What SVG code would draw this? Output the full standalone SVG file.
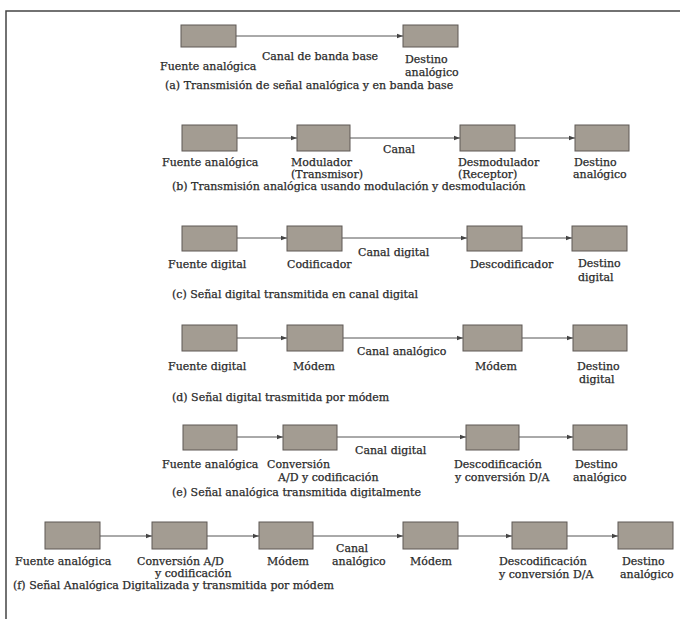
<svg xmlns="http://www.w3.org/2000/svg" width="680" height="619" viewBox="0 0 680 619">
<style>
text{font-family:"DejaVu Serif","Liberation Serif",serif;font-size:11px;fill:#2a2a2a;stroke:#2a2a2a;stroke-width:0.25}
.box{fill:#a39c92;stroke:#5e5954;stroke-width:1}
.c{stroke:#555;stroke-width:1;fill:none;marker-end:url(#ah)}
.frame{stroke:#444;stroke-width:1.5;fill:none}
</style>
<defs>
<marker id="ah" viewBox="0 0 6 6" refX="6" refY="3" markerWidth="6" markerHeight="6" markerUnits="userSpaceOnUse" orient="auto">
<path d="M0,0.8 L6,3 L0,5.2 Z" fill="#444"/>
</marker>
</defs>
<rect width="680" height="619" fill="#fff"/>
<path class="frame" d="M6,619 V11 H680"/>

<g id="connectors">
<line class="c" x1="236" y1="36" x2="403" y2="36"/>
<line class="c" x1="237" y1="138" x2="297" y2="138"/>
<line class="c" x1="350" y1="138" x2="460" y2="138"/>
<line class="c" x1="515" y1="138" x2="575" y2="138"/>
<line class="c" x1="237" y1="238" x2="287" y2="238"/>
<line class="c" x1="342" y1="238" x2="467" y2="238"/>
<line class="c" x1="522" y1="238" x2="572" y2="238"/>
<line class="c" x1="237" y1="338" x2="287" y2="338"/>
<line class="c" x1="343" y1="338" x2="463" y2="338"/>
<line class="c" x1="522" y1="338" x2="573" y2="338"/>
<line class="c" x1="237" y1="437" x2="283" y2="437"/>
<line class="c" x1="337" y1="437" x2="466" y2="437"/>
<line class="c" x1="519" y1="437" x2="573" y2="437"/>
<line class="c" x1="100" y1="536" x2="152" y2="536"/>
<line class="c" x1="207" y1="536" x2="259" y2="536"/>
<line class="c" x1="313" y1="536" x2="403" y2="536"/>
<line class="c" x1="458" y1="536" x2="512" y2="536"/>
<line class="c" x1="567" y1="536" x2="618" y2="536"/>
</g>

<!-- (a) -->
<g id="a-fuente"><rect class="box" x="181" y="25" width="55" height="22"/><text x="160" y="70">Fuente analógica</text></g>
<g id="a-destino"><rect class="box" x="403" y="25" width="55" height="22"/><text x="405" y="63">Destino</text><text x="405" y="76">analógico</text></g>
<g id="a-labels"><text x="320" y="60" text-anchor="middle">Canal de banda base</text><text x="165" y="89">(a) Transmisión de señal analógica y en banda base</text></g>

<!-- (b) -->
<g id="b-fuente"><rect class="box" x="182" y="125" width="55" height="26"/><text x="162" y="166">Fuente analógica</text></g>
<g id="b-modulador"><rect class="box" x="297" y="125" width="53" height="26"/><text x="291" y="166">Modulador</text><text x="291" y="178">(Transmisor)</text></g>
<g id="b-desmodulador"><rect class="box" x="460" y="125" width="55" height="26"/><text x="458" y="166">Desmodulador</text><text x="458" y="178">(Receptor)</text></g>
<g id="b-destino"><rect class="box" x="575" y="125" width="54" height="26"/><text x="574" y="166">Destino</text><text x="573" y="178">analógico</text></g>
<g id="b-labels"><text x="383" y="153">Canal</text><text x="172" y="190">(b) Transmisión analógica usando modulación y desmodulación</text></g>

<!-- (c) -->
<g id="c-fuente"><rect class="box" x="182" y="226" width="55" height="25"/><text x="168" y="268">Fuente digital</text></g>
<g id="c-codificador"><rect class="box" x="287" y="226" width="55" height="25"/><text x="287" y="268">Codificador</text></g>
<g id="c-descodificador"><rect class="box" x="467" y="226" width="55" height="25"/><text x="470" y="268">Descodificador</text></g>
<g id="c-destino"><rect class="box" x="572" y="226" width="55" height="25"/><text x="578" y="267">Destino</text><text x="578" y="281">digital</text></g>
<g id="c-labels"><text x="358" y="256">Canal digital</text><text x="172" y="298">(c) Señal digital transmitida en canal digital</text></g>

<!-- (d) -->
<g id="d-fuente"><rect class="box" x="182" y="325" width="55" height="26"/><text x="168" y="370">Fuente digital</text></g>
<g id="d-modem1"><rect class="box" x="287" y="325" width="56" height="26"/><text x="293" y="370">Módem</text></g>
<g id="d-modem2"><rect class="box" x="463" y="325" width="59" height="26"/><text x="475" y="370">Módem</text></g>
<g id="d-destino"><rect class="box" x="573" y="325" width="54" height="26"/><text x="577" y="370">Destino</text><text x="579" y="383">digital</text></g>
<g id="d-labels"><text x="357" y="355">Canal analógico</text><text x="172" y="401">(d) Señal digital trasmitida por módem</text></g>

<!-- (e) -->
<g id="e-fuente"><rect class="box" x="183" y="425" width="54" height="25"/><text x="162" y="468">Fuente analógica</text></g>
<g id="e-conversion"><rect class="box" x="283" y="425" width="54" height="25"/><text x="267" y="468">Conversión</text><text x="278" y="481">A/D y codificación</text></g>
<g id="e-descodificacion"><rect class="box" x="466" y="425" width="53" height="25"/><text x="454" y="468">Descodificación</text><text x="455" y="481">y conversión D/A</text></g>
<g id="e-destino"><rect class="box" x="573" y="425" width="54" height="25"/><text x="575" y="468">Destino</text><text x="573" y="481">analógico</text></g>
<g id="e-labels"><text x="355" y="454">Canal digital</text><text x="172" y="496">(e) Señal analógica transmitida digitalmente</text></g>

<!-- (f) -->
<g id="f-fuente"><rect class="box" x="45" y="522" width="55" height="27"/><text x="15" y="565">Fuente analógica</text></g>
<g id="f-conversion"><rect class="box" x="152" y="522" width="55" height="27"/><text x="137" y="565">Conversión A/D</text><text x="155" y="577">y codificación</text></g>
<g id="f-modem1"><rect class="box" x="259" y="522" width="54" height="27"/><text x="267" y="565">Módem</text></g>
<g id="f-modem2"><rect class="box" x="403" y="522" width="55" height="27"/><text x="410" y="565">Módem</text></g>
<g id="f-descodificacion"><rect class="box" x="512" y="522" width="55" height="27"/><text x="499" y="565">Descodificación</text><text x="499" y="578">y conversión D/A</text></g>
<g id="f-destino"><rect class="box" x="618" y="522" width="55" height="27"/><text x="622" y="565">Destino</text><text x="620" y="578">analógico</text></g>
<g id="f-labels"><text x="336" y="552">Canal</text><text x="332" y="565">analógico</text><text x="13" y="589">(f) Señal Analógica Digitalizada y transmitida por módem</text></g>
</svg>
